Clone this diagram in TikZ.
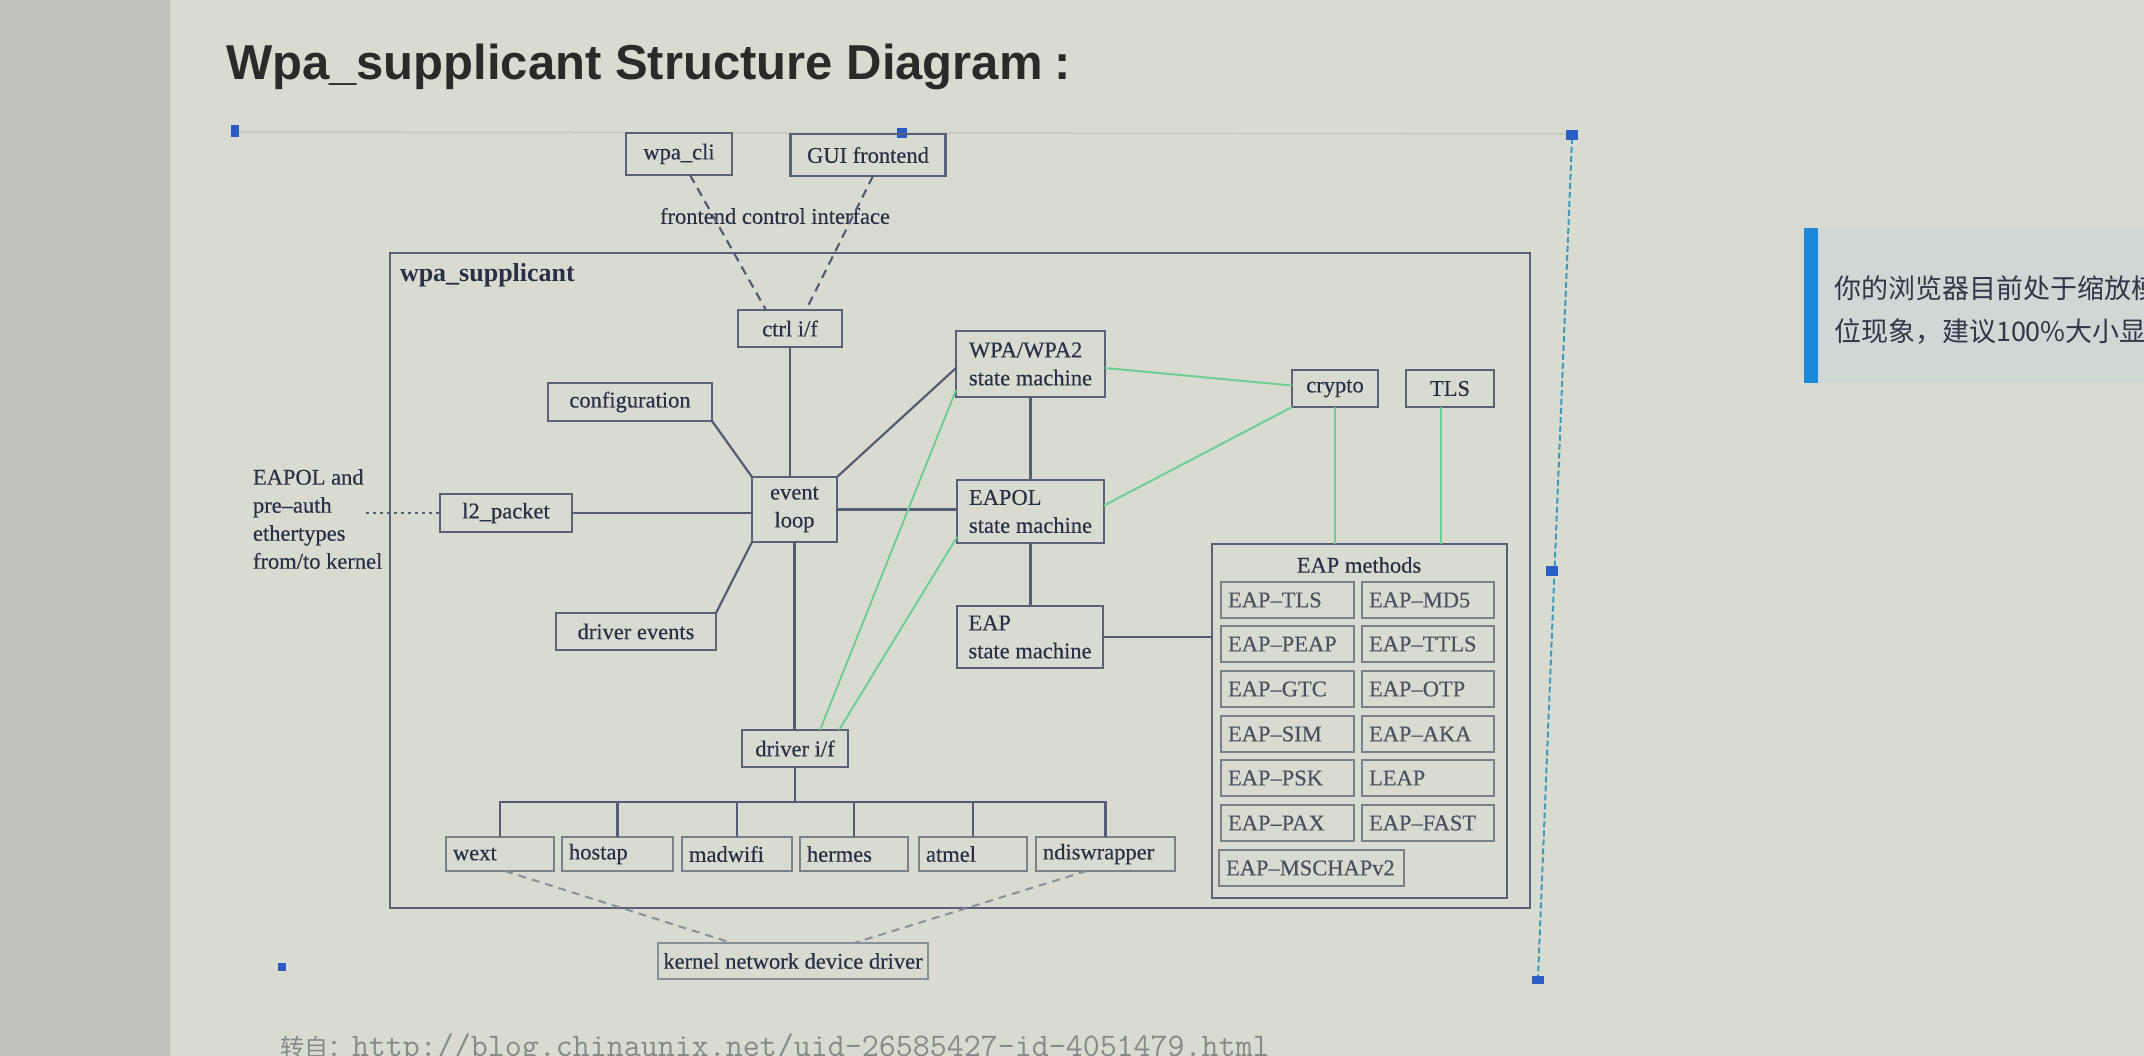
\documentclass[tikz,border=0pt]{standalone}
\usepackage{fontspec}
\setmainfont{Liberation Serif}
\newfontfamily\dfont{Liberation Serif}[FakeBold=0.4]
\newfontfamily\titlefont{Liberation Sans}
\newfontfamily\cjk{Noto Sans CJK SC}
\definecolor{bgc}{HTML}{DADBD0}
\definecolor{leftc}{HTML}{BEC2BA}
\definecolor{linec}{HTML}{565C78}
\definecolor{boxc}{HTML}{5A6078}
\definecolor{txtc}{HTML}{2A2F48}
\definecolor{greenc}{HTML}{6CCF96}
\definecolor{mboxc}{HTML}{7A808C}
\definecolor{mtxtc}{HTML}{4A5062}
\definecolor{dashc}{HTML}{8A8F9C}
\definecolor{handlec}{HTML}{2A5EC4}
\definecolor{selc}{HTML}{3C9CC0}
\definecolor{faintc}{HTML}{C6C9C2}
\definecolor{panelc}{HTML}{D0D8D6}
\definecolor{barc}{HTML}{1E88D8}
\definecolor{urlc}{HTML}{858A8A}
\definecolor{titlec}{HTML}{2A2A2A}
\definecolor{paneltxt}{HTML}{303848}
\begin{document}
\begin{tikzpicture}[x=1pt,y=-1pt,
 every node/.style={inner sep=0pt,outer sep=0pt,text=txtc},
 fnt/.style={font=\dfont\fontsize{22.5}{28}\selectfont},
 bx/.style args={#1x#2}{draw=boxc,line width=2.2pt,fnt,minimum width=#1pt,minimum height=#2pt,align=center},
 lbx/.style args={#1x#2}{draw=boxc,line width=2.2pt,fnt,minimum width=#1pt,minimum height=#2pt,align=left},
 mbx/.style={draw=mboxc,line width=2pt,fnt,text=mtxtc,minimum height=36pt,inner xsep=7pt,text width=#1pt,align=left},
 dbx/.style={draw=mboxc,line width=2pt,fnt,minimum height=34pt,inner xsep=7pt,text width=#1pt,align=left},
 conn/.style={draw=linec,line width=2.2pt},
 gconn/.style={draw=greenc,line width=2pt},
 ctrldash/.style={draw=linec,line width=2.2pt,dash pattern=on 9pt off 6pt},
 kdash/.style={draw=dashc,line width=2pt,dash pattern=on 8pt off 6pt},
 dotl/.style={draw=linec,line width=2pt,dash pattern=on 3pt off 4pt},
 handle/.style={fill=handlec}
]
\useasboundingbox (0,0) rectangle (2144,1056);
% background
\fill[bgc] (0,0) rectangle (2144,1056);
\fill[leftc] (0,0) rectangle (170,1056);
% side panel
\fill[panelc] (1818,228) rectangle (2144,383);
\fill[barc] (1804,228) rectangle (1818,383);
\node[anchor=west,text=paneltxt,font=\cjk\fontsize{27}{31}\selectfont] (pan1) at (1834,288) {你的浏览器目前处于缩放模};
\node[anchor=west,text=paneltxt,font=\cjk\fontsize{27}{31}\selectfont] (pan2) at (1834,332) {位现象，建议100\%大小显};
% title
\node[anchor=base west,text=titlec,font=\titlefont\bfseries\fontsize{49}{58}\selectfont] (title) at (226,80) {Wpa\_supplicant Structure Diagram\kern12pt:};
% url
\node[anchor=base west,text=urlc] (url) at (280,1056) {{\cjk\fontsize{24}{24}\selectfont 转自：}{\ttfamily\fontsize{33}{33}\selectfont http://blog.chinaunix.net/uid-26585427-id-4051479.html}};
% selection frame
\draw[faintc,line width=1.5pt] (238,132) -- (1568,134);
\draw[selc,line width=2pt,dash pattern=on 6pt off 3pt] (1572,138) -- (1538,978);
\fill[handle] (231,125) rectangle (239,137);
\fill[handle] (897,128) rectangle (907,138);
\fill[handle] (1566,130) rectangle (1578,140);
\fill[handle] (1546,566) rectangle (1558,576);
\fill[handle] (1532,976) rectangle (1544,984);
\fill[handle] (278,963) rectangle (286,971);

% frontends
\node[bx=106x42] (wpacli) at (679,154) {wpa\_cli};
\node[bx=155x42] (gui) at (868,155) {GUI frontend};
\node[fnt] (fci) at (775,216) {frontend control interface};

% main box
\node[draw=boxc,line width=2.2pt,minimum width=1140pt,minimum height=655pt] (sup) at (960,580.5) {};
\node[anchor=west,font=\bfseries\fontsize{26}{30}\selectfont] (suplbl) at (400,275) {wpa\_supplicant};

\node[bx=104x37] (ctrl) at (790,328.5) {ctrl i/f};
\node[lbx=149x66] (wpa) at (1030.5,364) {WPA/WPA2\\state machine};
\node[bx=86x37] (crypto) at (1335,388.5) {crypto};
\node[bx=88x37] (tls) at (1450,388.5) {TLS};
\node[bx=164x38] (config) at (630,402) {configuration};
\node[bx=132x38] (l2) at (506,513) {l2\_packet};
\node[bx=85x65] (evt) at (794.5,509.5) {event\\loop};
\node[lbx=147x63] (eapol) at (1030.5,511.5) {EAPOL\\state machine};
\node[bx=160x37] (drvev) at (636,631.5) {driver events};
\node[lbx=146x62] (eap) at (1030,637) {EAP\\state machine};
\node[bx=106x37] (drvif) at (795,748.5) {driver i/f};

% EAPOL text outside
\node[fnt,align=left,anchor=west] (eapoltxt) at (253,519) {EAPOL and\\pre–auth\\ethertypes\\from/to kernel};
\coordinate (eapolpt) at (366,513);

% EAP methods
\node[draw=boxc,line width=2.2pt,minimum width=295pt,minimum height=354pt] (eapm) at (1359.5,721) {};
\node[fnt] (eapmlbl) at (1359,565) {EAP methods};
\node[mbx=119] (m1a) at (1287.5,600) {EAP–TLS};
\node[mbx=118] (m1b) at (1428,600) {EAP–MD5};
\node[mbx=119] (m2a) at (1287.5,644) {EAP–PEAP};
\node[mbx=118] (m2b) at (1428,644) {EAP–TTLS};
\node[mbx=119] (m3a) at (1287.5,689) {EAP–GTC};
\node[mbx=118] (m3b) at (1428,689) {EAP–OTP};
\node[mbx=119] (m4a) at (1287.5,734) {EAP–SIM};
\node[mbx=118] (m4b) at (1428,734) {EAP–AKA};
\node[mbx=119] (m5a) at (1287.5,778) {EAP–PSK};
\node[mbx=118] (m5b) at (1428,778) {LEAP};
\node[mbx=119] (m6a) at (1287.5,823) {EAP–PAX};
\node[mbx=118] (m6b) at (1428,823) {EAP–FAST};
\node[mbx=171] (m7a) at (1311.5,868) {EAP–MSCHAPv2};

% drivers
\node[dbx=94] (wext) at (500,854) {wext};
\node[dbx=97] (hostap) at (617.5,854) {hostap};
\node[dbx=96] (madwifi) at (737,854) {madwifi};
\node[dbx=94] (hermes) at (854,854) {hermes};
\node[dbx=94] (atmel) at (973,854) {atmel};
\node[dbx=125] (ndis) at (1105.5,854) {ndiswrapper};
\node[draw=dashc,line width=2pt,fnt,minimum width=270pt,minimum height=36pt] (kernel) at (793,961) {kernel network device driver};

% connectors
\draw[ctrldash] ([xshift=11pt]wpacli.south) -- ([xshift=-24pt]ctrl.north);
\draw[ctrldash] ([xshift=5pt]gui.south) -- ([xshift=16pt]ctrl.north);
\draw[conn] (ctrl.south) -- (ctrl.south |- evt.north);
\draw[conn] (config.south east) -- (evt.north west);
\draw[conn] (l2.east) -- (l2.east -| evt.west);
\draw[conn] (drvev.north east) -- (evt.south west);
\draw[conn] (evt.north east) -- ([yshift=-4pt]wpa.west);
\draw[conn] (evt.east) -- (evt.east -| eapol.west);
\draw[conn] (evt.south) -- (evt.south |- drvif.north);
\draw[conn] (wpa.south) -- (wpa.south |- eapol.north);
\draw[conn] (eapol.south) -- (eapol.south |- eap.north);
\draw[conn] (eap.east) -- (eap.east -| eapm.west);
\draw[dotl] (eapolpt) -- (l2.west);

\draw[gconn] ([yshift=-4pt]wpa.east) -- ([yshift=3pt]crypto.west);
\draw[gconn] (crypto.south west) -- ([yshift=6pt]eapol.east);
\draw[gconn] (crypto.south) -- (crypto.south |- eapm.north);
\path ([xshift=-9pt]tls.south) coordinate (tlsb);
\draw[gconn] (tlsb) -- (tlsb |- eapm.north);
\draw[gconn] ([xshift=25pt]drvif.north) -- ([yshift=7pt]wpa.south west);
\draw[gconn] ([xshift=44pt]drvif.north) -- ([yshift=6pt]eapol.south west);

\coordinate (bus) at (795,802);
\draw[conn] (drvif.south) -- (drvif.south |- bus);
\draw[conn] (wext.north) -- (wext.north |- bus) -- (ndis.north |- bus) -- (ndis.north);
\foreach \n in {hostap,madwifi,hermes,atmel} \draw[conn] (\n.north) -- (\n.north |- bus);

\draw[kdash] ([xshift=5pt]wext.south) -- ([xshift=-61pt]kernel.north);
\draw[kdash] ([xshift=-19pt]ndis.south) -- ([xshift=61pt]kernel.north);
\end{tikzpicture}
\end{document}
